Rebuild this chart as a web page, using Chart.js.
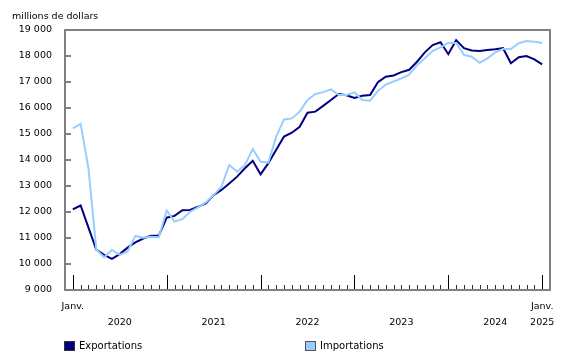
<!DOCTYPE html>
<html>
<head>
<meta charset="utf-8">
<script src="https://cdn.jsdelivr.net/npm/chart.js@4/dist/chart.umd.min.js"></script>
<style>
  html, body { margin: 0; padding: 0; background: #fff; }
  #wrap { position: relative; width: 580px; height: 360px; font-family: "DejaVu Sans", Verdana, sans-serif; }
  canvas { position: absolute; left: 0; top: 0; }
  .leg { position: absolute; top: 339px; height: 14px; font-size: 10px; line-height: 14px; color: #000; white-space: nowrap; }
  .sw { position: absolute; top: 2px; left: 0; width: 9px; height: 8px; border: 1px solid #333; }
  .lt { position: absolute; left: 15px; top: 0; }
</style>
</head>
<body>
<div id="wrap">
  <canvas id="c" width="580" height="360"></canvas>
  <div class="leg" style="left:64px"><div class="sw" style="background:#000080"></div><span class="lt">Exportations</span></div>
  <div class="leg" style="left:305px"><div class="sw" style="background:#99CCFF;border-color:#555"></div><span class="lt">Importations</span></div>
</div>
<script>
// Categories: months from January 2020 to January 2025
const months = [];
for (let y = 2020; y <= 2025; y++) {
  for (let m = 1; m <= 12; m++) {
    if (y === 2025 && m > 1) break;
    months.push(y + '-' + String(m).padStart(2, '0'));
  }
}

// Series values (millions of dollars)
const exportations = [
  12100, 12250, 11400, 10550, 10350, 10200, 10380, 10630, 10830, 10980, 11090, 11090,
  11780, 11850, 12070, 12080, 12200, 12330, 12650, 12850, 13100, 13360, 13680, 13970,
  13450, 13880, 14390, 14900, 15050, 15280, 15820, 15860, 16080, 16310, 16540, 16490,
  16390, 16470, 16500, 16990, 17200, 17250, 17380, 17470, 17780, 18140, 18420, 18530,
  18070, 18610, 18300, 18210, 18190, 18230, 18260, 18300, 17720, 17950, 18000, 17870,
  17680
];
const importations = [
  15220, 15390, 13680, 10560, 10260, 10540, 10350, 10480, 11080, 11010, 11050, 11030,
  12060, 11630, 11730, 12010, 12180, 12370, 12650, 12970, 13810, 13550, 13810, 14420,
  13930, 13900, 14900, 15560, 15600, 15860, 16310, 16540, 16610, 16720, 16500, 16500,
  16600, 16310, 16280, 16660, 16900, 17020, 17140, 17280, 17650, 17910, 18200, 18330,
  18500, 18500, 18040, 17970, 17740, 17910, 18140, 18270, 18270, 18490, 18580, 18550,
  18500
];

// Tick labels
const monthLabel = 'Janv.';
const yearLabels = ['2020', '2021', '2022', '2023', '2024', '2025'];
const yTickMin = 9000, yTickMax = 19000, yTickStep = 1000;

const FONT = '"DejaVu Sans", Verdana, sans-serif';

function fmt(v) { return String(v).replace(/\B(?=(\d{3})+(?!\d))/g, ' '); }

// x label positions: first and last January get "Janv.", mid-year gets the year
const lastIdx = months.length - 1;
const labelPositions = [0];
yearLabels.forEach((y, k) => { if (k * 12 + 6 < lastIdx) labelPositions.push(k * 12 + 6); });
labelPositions.push(lastIdx);

function xLabel(v) {
  if (v === 0) return [monthLabel, ''];
  if (v === lastIdx) return [monthLabel, yearLabels[Math.floor(lastIdx / 12)]];
  return ['', yearLabels[Math.floor(v / 12)]];
}

const framePlugin = {
  id: 'frame',
  afterDatasetsDraw(chart) {
    const ctx = chart.ctx;
    const a = chart.chartArea;
    const xs = chart.scales.x, ys = chart.scales.y;
    ctx.save();
    // y tick marks (inside)
    ctx.strokeStyle = '#808080';
    ctx.lineWidth = 2;
    ys.ticks.forEach(t => {
      const y = Math.round(ys.getPixelForValue(t.value));
      ctx.beginPath();
      ctx.moveTo(a.left, y);
      ctx.lineTo(a.left + 6, y);
      ctx.stroke();
    });
    // x tick marks (inside, upward)
    ctx.lineWidth = 1;
    months.forEach((m, i) => {
      const x = Math.round(xs.getPixelForValue(i)) + 0.5;
      const major = m.endsWith('-01');
      ctx.strokeStyle = major ? '#000' : '#333';
      ctx.beginPath();
      ctx.moveTo(x, a.bottom);
      ctx.lineTo(x, a.bottom - (major ? 15 : 5));
      ctx.stroke();
    });
    // frame
    ctx.strokeStyle = '#808080';
    ctx.lineWidth = 2;
    ctx.strokeRect(a.left, a.top, a.right - a.left, a.bottom - a.top);
    ctx.restore();
  }
};

new Chart(document.getElementById('c'), {
  type: 'line',
  data: {
    datasets: [
      {
        label: 'Exportations',
        data: exportations.map((v, i) => ({ x: i, y: v })),
        borderColor: '#000080',
        backgroundColor: '#000080',
        borderWidth: 2,
        pointRadius: 0,
        tension: 0,
        order: 1
      },
      {
        label: 'Importations',
        data: importations.map((v, i) => ({ x: i, y: v })),
        borderColor: '#99CCFF',
        backgroundColor: '#99CCFF',
        borderWidth: 2,
        pointRadius: 0,
        tension: 0,
        order: 0
      }
    ]
  },
  options: {
    responsive: false,
    devicePixelRatio: 1,
    animation: false,
    layout: { padding: { left: 12, right: 30, top: 0, bottom: 0 } },
    plugins: {
      legend: { display: false },
      tooltip: { enabled: false },
      title: {
        display: true,
        text: 'millions de dollars',
        align: 'start',
        color: '#000',
        font: { family: FONT, size: 9.5, weight: 'normal', lineHeight: 1.2 },
        padding: { top: 10.8, bottom: 7.8 }
      }
    },
    scales: {
      x: {
        type: 'linear',
        min: -1,
        max: months.length,
        grid: { display: false, drawTicks: false, tickLength: 0 },
        border: { display: false },
        afterBuildTicks(s) { s.ticks = labelPositions.map(v => ({ value: v })); },
        afterFit(s) { s.height = 70; },
        ticks: {
          autoSkip: false,
          maxRotation: 0,
          minRotation: 0,
          padding: 9,
          color: '#000',
          font: { family: FONT, size: 9.5, lineHeight: 1.65 },
          callback: (v) => xLabel(v)
        }
      },
      y: {
        min: yTickMin,
        max: yTickMax,
        grid: { display: false, drawTicks: false, tickLength: 0 },
        border: { display: false },
        afterFit(s) { s.width = 53; },
        ticks: {
          stepSize: yTickStep,
          padding: 13,
          color: '#000',
          font: { family: FONT, size: 9.5 },
          callback: (v) => fmt(v)
        }
      }
    }
  },
  plugins: [framePlugin]
});
</script>
</body>
</html>
